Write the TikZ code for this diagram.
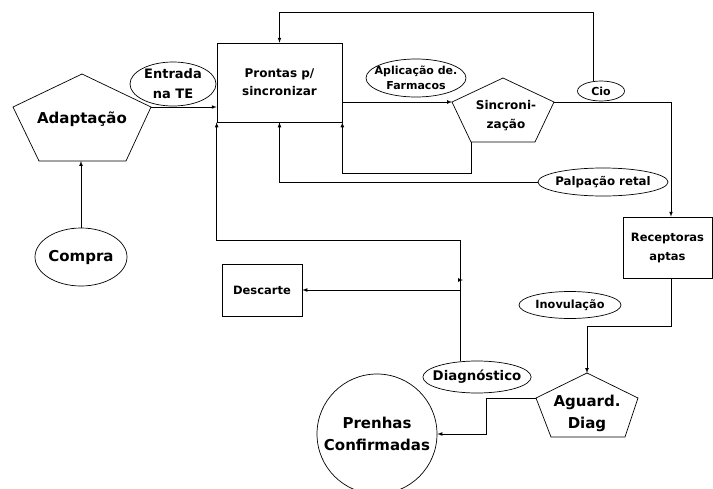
\documentclass[tikz,border=0pt]{standalone}
\usepackage{fontspec}
\setmainfont{DejaVu Sans}
\usetikzlibrary{arrows}
\usetikzlibrary{shapes}

\begin{document}
\begin{tikzpicture}[x=1pt,y=-1pt,line width=0.7pt,
  oval/.style={draw,ellipse,inner sep=-6pt,align=center},
  box/.style={draw,rectangle,inner sep=0pt,align=center},
  txt/.style={align=center,inner sep=0pt}]
 \useasboundingbox (0,0) rectangle (713,488);

 % pentagons
 \coordinate (ad-t) at (82,74);  \coordinate (ad-l) at (13,107);  \coordinate (ad-r) at (151,107);
 \coordinate (ad-bl) at (39,161); \coordinate (ad-br) at (126,161); \coordinate (ad-b) at (82,161);
 \draw (ad-t) -- (ad-r) -- (ad-br) -- (ad-bl) -- (ad-l) -- cycle;
 \node[txt,font=\fontsize{15}{17}\selectfont\bfseries] (adapt) at (82,119) {Adaptação};

 \coordinate (si-t) at (503,78);  \coordinate (si-l) at (452,102); \coordinate (si-r) at (554,102);
 \coordinate (si-bl) at (471,142); \coordinate (si-br) at (535,142);
 \draw (si-t) -- (si-r) -- (si-br) -- (si-bl) -- (si-l) -- cycle;
 \node[txt,font=\fontsize{12}{19}\selectfont\bfseries] (sinc) at (506,116) {Sincroni-\\zação};

 \coordinate (ag-t) at (587,373);  \coordinate (ag-l) at (536,398); \coordinate (ag-r) at (638,398);
 \coordinate (ag-bl) at (551,437); \coordinate (ag-br) at (625,437);
 \draw (ag-t) -- (ag-r) -- (ag-br) -- (ag-bl) -- (ag-l) -- cycle;
 \node[txt,font=\fontsize{15}{22}\selectfont\bfseries] (aguard) at (587,413) {Aguard.\\Diag};

 % boxes and ovals
 \node[box,minimum width=125,minimum height=79,font=\fontsize{12}{18}\selectfont\bfseries] (prontas) at (279.5,82.5) {Prontas p/\\sincronizar};
 \node[box,minimum width=89,minimum height=61,font=\fontsize{11.5}{19}\selectfont\bfseries] (recep) at (667.5,247.5) {Receptoras\\aptas};
 \node[box,minimum width=80,minimum height=52,font=\fontsize{11.5}{13}\selectfont\bfseries] (desc) at (262,290) {Descarte};
 \node[draw,circle,minimum size=120,inner sep=0pt,align=center,font=\fontsize{15}{22}\selectfont\bfseries] (prenhas) at (377,434) {Prenhas\\Confirmadas};

 \node[oval,minimum width=92,minimum height=58,font=\fontsize{15}{17}\selectfont\bfseries] (compra) at (81,257) {Compra};
 \node[oval,minimum width=86,minimum height=44,font=\fontsize{13}{20}\selectfont\bfseries] (entrada) at (173,84) {Entrada\\na TE};
 \node[oval,minimum width=93,minimum height=38,font=\fontsize{11}{15}\selectfont\bfseries] (aplic) at (416,78) {Aplicação de.\\Farmacos};
 \node[oval,minimum width=47,minimum height=20,font=\fontsize{11}{12}\selectfont\bfseries] (cio) at (601,91) {Cio};
 \node[oval,minimum width=130,minimum height=28,font=\fontsize{11.8}{14}\selectfont\bfseries] (palp) at (603,182) {Palpação retal};
 \node[oval,minimum width=102,minimum height=27,font=\fontsize{11.3}{12}\selectfont\bfseries] (inov) at (570,305) {Inovulação};
 \node[oval,minimum width=101,minimum height=32,font=\fontsize{13.3}{14}\selectfont\bfseries] (diag) at (477,377) {Diagnóstico};

 % connectors
 \draw[-latex] (compra.north) -- (compra.north |- ad-b);
 \draw[-latex] (ad-r) -- (ad-r -| prontas.west);
 \coordinate (loop) at (593,12);
 \draw[-latex] ([xshift=-8]cio.north) -- ([xshift=-8]cio.north |- loop) -| (prontas.north);
 \draw[-latex] (prontas.east |- si-l) -- (si-l);
 \draw[-latex] (si-bl) -- ++(0,31) -| (prontas.south east);
 \draw[-latex] (palp.west) -| (prontas.south);
 \draw[-latex] (si-r) -| ([xshift=3.5]recep.north);
 \draw[-latex] ([xshift=3.5]recep.south) -- ++(0,48) -| (ag-t);
 \draw[-latex] (ag-l) -- ++(-50,0) |- (prenhas.east);
 \coordinate (split) at ([xshift=-17]diag.north |- desc.east);
 \draw[-latex] ([xshift=-17]diag.north) -- ++(0,-120) -| (prontas.south west);
 \draw[-latex] (split) -- (desc.east);
 \draw[-latex] ([yshift=10]split) -- ++(3,0);
\end{tikzpicture}
\end{document}
